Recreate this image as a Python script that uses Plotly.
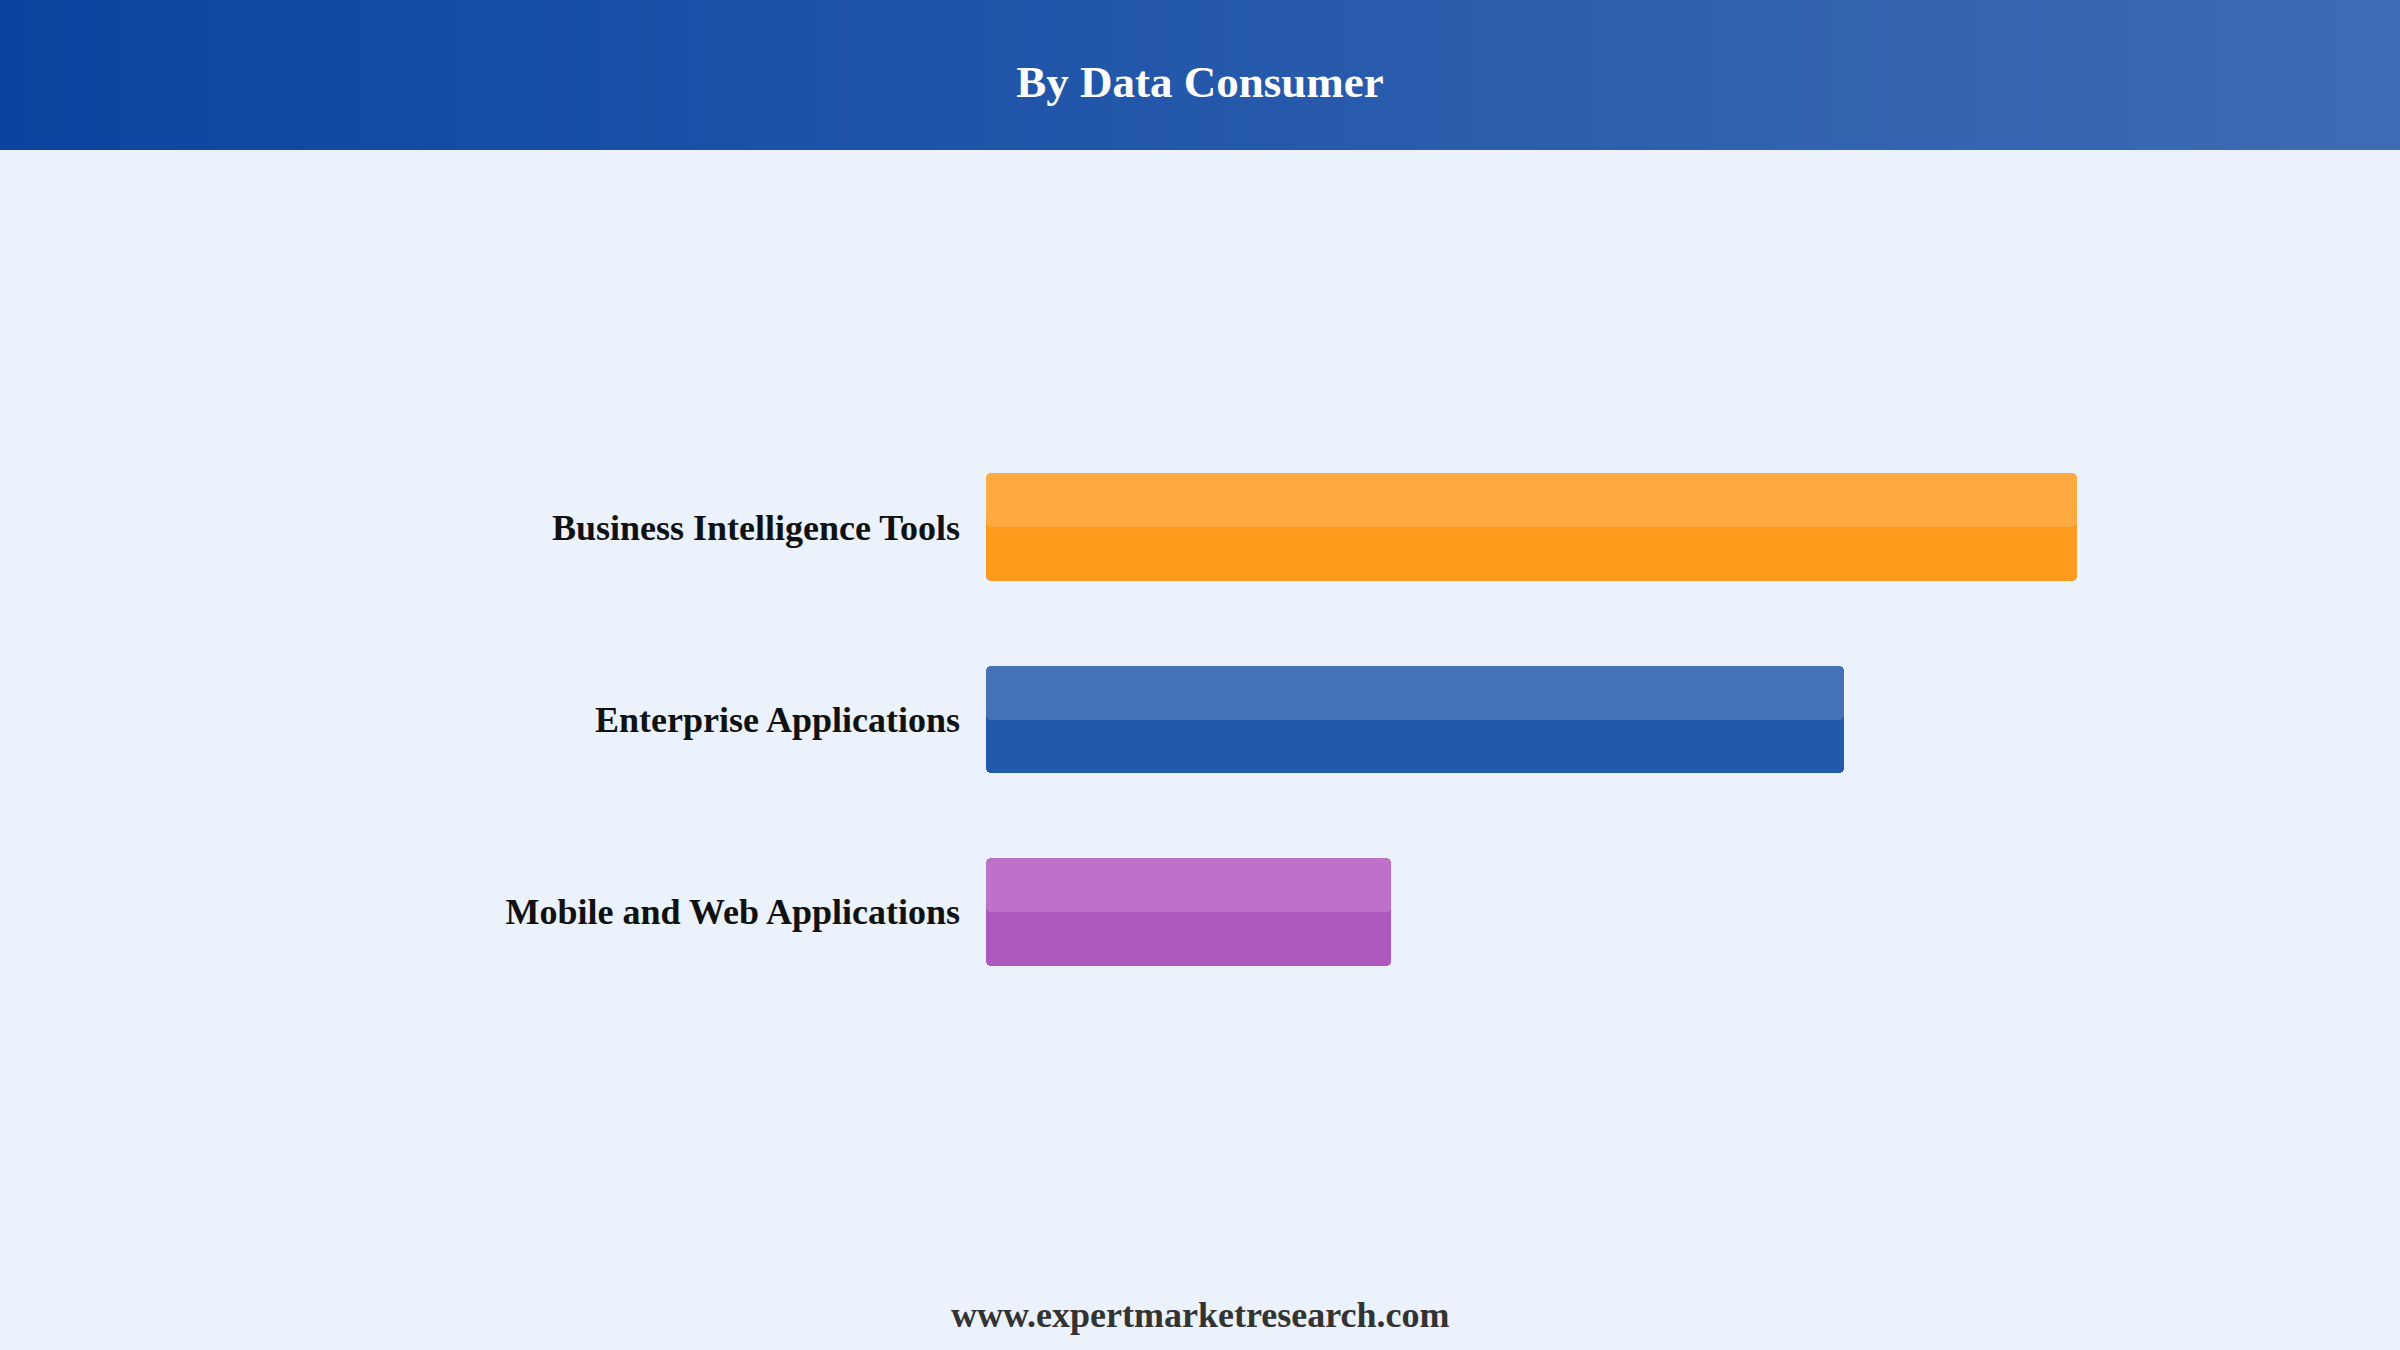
import plotly.graph_objects as go

# ---- data ----
categories = ["Business Intelligence Tools", "Enterprise Applications", "Mobile and Web Applications"]
shares = [46.3, 36.4, 17.2]
base_colors = ["#FE9A1C", "#2358AA", "#AD58BE"]
highlight_colors = ["#FFA941", "#4472B6", "#BE71C9"]
title_text = "By Data Consumer"
footer_text = "www.expertmarketresearch.com"

W, H = 2400, 1350
ML, MR, MT, MB = 986, 236, 431, 342
BAR_W = 0.56
FONT = "Times New Roman, Liberation Serif, serif"

# each bar drawn as two overlapping pieces growing outward from its middle,
# so that both ends of the bar get rounded corners
mids = [v / 2 for v in shares]
OVL = 1.0
fig = go.Figure()
for colors, width, offset in [(base_colors, BAR_W, None), (highlight_colors, BAR_W / 2, -BAR_W / 2)]:
    # right piece: from slightly left of the middle up to the value
    fig.add_trace(go.Bar(
        y=categories, x=[v - (m - OVL) for v, m in zip(shares, mids)],
        base=[m - OVL for m in mids], orientation="h",
        width=width, offset=offset,
        marker=dict(color=colors, line=dict(width=0), cornerradius=5),
        hoverinfo="skip", showlegend=False,
    ))
    # left piece: from slightly right of the middle back to zero
    fig.add_trace(go.Bar(
        y=categories, x=[-(m + OVL) for m in mids],
        base=[m + OVL for m in mids], orientation="h",
        width=width, offset=offset,
        marker=dict(color=colors, line=dict(width=0), cornerradius=5),
        hoverinfo="skip", showlegend=False,
    ))

# header gradient made of thin strips
shapes = []
n = 80
c0 = (11, 68, 160)
c1 = (62, 108, 180)
for i in range(n):
    t = i / (n - 1)
    col = tuple(round(c0[k] + (c1[k] - c0[k]) * t) for k in range(3))
    shapes.append(dict(
        type="rect", xref="paper", yref="paper",
        x0=(i * W / n - ML) / (W - ML - MR), x1=((i + 1) * W / n + 1 - ML) / (W - ML - MR),
        y0=(H - MB - 150) / (H - MT - MB), y1=(H - MB + 2) / (H - MT - MB),
        fillcolor="rgb(%d,%d,%d)" % col, line=dict(width=0), layer="below",
    ))

fig.update_layout(
    width=W, height=H,
    margin=dict(l=ML, r=MR, t=MT, b=MB),
    paper_bgcolor="#EBF2FC", plot_bgcolor="#EBF2FC",
    barmode="overlay", bargap=0,
    shapes=shapes,
    title=dict(text=title_text, x=0.5, xref="container", y=1 - 81 / H, yref="container",
               xanchor="center", yanchor="middle",
               font=dict(family=FONT, size=45, color="white", weight="bold")),
    xaxis=dict(range=[0, 50], visible=False, showgrid=False, zeroline=False),
    yaxis=dict(autorange=False, range=[2.5, -0.5], showgrid=False, zeroline=False,
               showline=False, ticks="", ticklabelstandoff=25,
               tickfont=dict(family=FONT, size=36, color="#111111", weight="bold")),
    annotations=[dict(
        text=footer_text, xref="paper", yref="paper",
        x=(W / 2 - ML) / (W - ML - MR), y=(H - MB - 1315) / (H - MT - MB),
        xanchor="center", yanchor="middle", showarrow=False,
        font=dict(family=FONT, size=36, color="#333333", weight="bold"),
    )],
)

fig.write_html("out.html", config={"displayModeBar": False},
               post_script="document.body.style.margin='0';document.body.style.overflow='hidden';")
